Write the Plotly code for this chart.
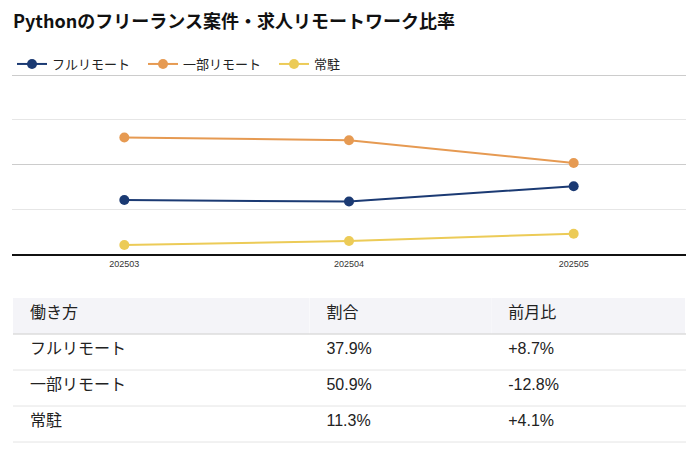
import plotly.graph_objects as go

months = ["202503", "202504", "202505"]
full_remote = [30.2, 29.3, 37.9]
partial_remote = [65.1, 63.6, 50.9]
onsite = [5.0, 7.3, 11.3]

series_names = ["フルリモート", "一部リモート", "常駐"]
colors = ["#1b3a73", "#e69a52", "#eccb57"]

table_header = ["働き方", "割合", "前月比"]
share_labels = ["37.9%", "50.9%", "11.3%"]
change_labels = ["+8.7%", "-12.8%", "+4.1%"]

# the page puts the plot 8px in from the top-left corner
OFF = 8
W, H = 697 - OFF, 450 - OFF
pad = "\u00a0\u00a0"


def py(y):
    # screen pixel row -> paper fraction
    return (H - (y - OFF)) / H


fig = go.Figure()
for name, vals, c in zip(series_names, [full_remote, partial_remote, onsite], colors):
    fig.add_trace(go.Scatter(
        x=months, y=vals, name=name, mode="lines+markers",
        line=dict(color=c, width=2), marker=dict(color=c, size=10)))

tfont = dict(family="Liberation Sans, Noto Sans CJK JP", size=16, color="#222")
fig.add_trace(go.Table(
    domain=dict(x=[0.0015, 1], y=[0, py(298)]),
    columnwidth=[297, 182, 194],
    header=dict(values=[pad + h for h in table_header],
                fill_color="#f4f4f8", line_color="#f4f4f8", line_width=0,
                align="left", height=36, font=tfont),
    cells=dict(values=[[pad + s for s in series_names],
                       [pad + s for s in share_labels],
                       [pad + s for s in change_labels]],
               fill_color="white", line_color="white", line_width=0,
               align="left", height=36, font=tfont),
))

# horizontal row separators of the table
for k in range(1, 5):
    yy = py(298 + 36 * k)
    fig.add_shape(type="line", xref="paper", yref="paper", x0=0.0015, x1=1, y0=yy, y1=yy,
                  line=dict(color="#dcdcdc" if k == 1 else "#e4e4e4", width=1.5 if k == 1 else 1))

fig.update_layout(
    width=W, height=H,
    margin=dict(l=12 - OFF, r=697 - 686, t=0, b=0),
    paper_bgcolor="white", plot_bgcolor="white",
    font=dict(family="Noto Sans CJK JP", color="#222"),
    title=dict(text="<b>Pythonのフリーランス案件・求人リモートワーク比率</b>",
               x=(13 - OFF) / W, xanchor="left", y=py(22), yanchor="middle",
               font=dict(size=18, color="#111")),
    legend=dict(orientation="h", x=0, xanchor="left", y=py(64), yanchor="middle",
                font=dict(size=13, color="#222"), itemwidth=30,
                entrywidth=86, entrywidthmode="pixels", bgcolor="rgba(0,0,0,0)"),
    xaxis=dict(range=[-0.5, 2.5], showgrid=False, showline=True, linecolor="#111",
               linewidth=1.5, ticks="", tickfont=dict(size=9, color="#333",
               family="Liberation Sans"), fixedrange=True),
    yaxis=dict(domain=[py(254), py(74)], range=[0, 100.6], dtick=50,
               showticklabels=False, gridcolor="#cccccc", zeroline=False,
               minor=dict(dtick=25, showgrid=True, gridcolor="#e6e6e6"),
               fixedrange=True),
)

fig.write_html("out.html")
